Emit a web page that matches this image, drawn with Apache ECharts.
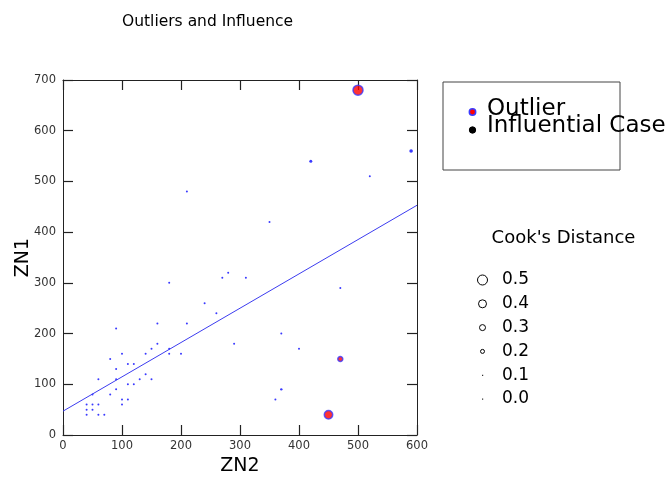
<!DOCTYPE html>
<html><head><meta charset="utf-8">
<script src="https://cdn.jsdelivr.net/npm/echarts@6/dist/echarts.min.js"></script>
<style>html,body{margin:0;padding:0;background:#fff}#c{width:670px;height:481px}</style>
</head><body><div id="c"></div>
<script>
// ---- data ----
const chartTitle = 'Outliers and Influence';
const xName = 'ZN2';
const yName = 'ZN1';
const pointsX = [40,60,70,40,50,40,50,60,100,100,110,50,80,90,110,120,60,90,130,150,140,90,110,120,80,100,140,180,200,150,180,160,290,90,160,210,260,240,180,270,280,310,370,400,470,370,360,350,210,520,420,590];
const pointsY = [40,40,40,50,50,60,60,60,60,70,70,80,80,90,100,100,110,110,110,110,120,130,140,140,150,160,160,160,160,170,170,180,180,210,220,220,240,260,300,310,320,310,200,170,290,90,70,420,480,510,540,560];
const pointsCook = [0.05,0.05,0.05,0.05,0.05,0.05,0.05,0.05,0.05,0.05,0.05,0.05,0.05,0.05,0.05,0.05,0.05,0.05,0.05,0.05,0.05,0.05,0.05,0.05,0.05,0.05,0.05,0.05,0.05,0.05,0.05,0.05,0.05,0.05,0.05,0.05,0.05,0.05,0.05,0.05,0.05,0.05,0.05,0.05,0.05,0.12,0.05,0.05,0.05,0.05,0.15,0.18];
const outlierX = [500, 450, 470];
const outlierY = [680, 40, 150];
const outlierCook = [0.5, 0.42, 0.25];
const fitX = [0, 600];
const fitY = [47, 453];
const legendNames = ['Outlier', 'Influential Case'];
const cookTitle = "Cook's Distance";
const cookLevels = [0.5, 0.4, 0.3, 0.2, 0.1, 0.0];

// ---- build ----
const FONT = 'DejaVu Sans';
const sizeOf = c => Math.max(2, 20 * c);
const normalData = pointsX.map((x, i) => [x, pointsY[i], pointsCook[i]]);
const outlierData = outlierX.map((x, i) => [x, outlierY[i], outlierCook[i]]);
const fitData = fitX.map((x, i) => [x, fitY[i]]);

function makeAxis(extra) {
  const base = {
    type: 'value',
    splitLine: {show: false},
    axisLine: {show: true, onZero: false, lineStyle: {color: '#222', width: 1}},
    axisTick: {show: true, inside: true, length: 10, lineStyle: {color: '#222', width: 1.2}},
    axisLabel: {fontFamily: FONT, fontSize: 11.5, color: '#333'}
  };
  return Object.assign(base, extra);
}

const graphics = [];
graphics.push({type: 'rect', shape: {x: 443, y: 82, width: 177, height: 88},
  style: {fill: 'none', stroke: '#444', lineWidth: 1}});
graphics.push({type: 'circle', shape: {cx: 472.5, cy: 112, r: 3.2},
  style: {fill: '#ff0000', stroke: '#3a3aff', lineWidth: 1.5}});
graphics.push({type: 'circle', shape: {cx: 472.5, cy: 130, r: 3.2},
  style: {fill: '#000', stroke: '#000', lineWidth: 1}});
graphics.push({type: 'text', x: 487, y: 109, style: {text: legendNames[0], font: '23px "DejaVu Sans"', fill: '#000', verticalAlign: 'middle'}});
graphics.push({type: 'text', x: 487, y: 126.5, style: {text: legendNames[1], font: '23px "DejaVu Sans"', fill: '#000', verticalAlign: 'middle'}});
graphics.push({type: 'text', x: 563.5, y: 238.5, style: {text: cookTitle, font: '18px "DejaVu Sans"', fill: '#000', align: 'center', verticalAlign: 'middle'}});
cookLevels.forEach((c, i) => {
  const cy = 280 + i * 23.8;
  const r = 10 * c;
  if (r >= 1.5) {
    graphics.push({type: 'circle', shape: {cx: 482.5, cy: cy, r: r},
      style: {fill: '#fff', stroke: '#000', lineWidth: 1}});
  } else {
    graphics.push({type: 'rect', shape: {x: 482, y: cy - 0.5, width: 1.2, height: 1.2},
      style: {fill: '#333'}});
  }
  graphics.push({type: 'text', x: 502, y: cy, style: {text: c.toFixed(1), font: '17px "DejaVu Sans"', fill: '#000', verticalAlign: 'middle'}});
});

const option = {
  animation: false,
  backgroundColor: '#fff',
  title: {text: chartTitle, left: 117, top: 9,
    textStyle: {fontFamily: FONT, fontSize: 15.5, fontWeight: 'normal', color: '#000'}},
  grid: {left: 63, right: 253, top: 80, bottom: 46, containLabel: false, outerBoundsMode: 'none'},
  xAxis: [
    makeAxis({position: 'bottom', min: 0, max: 600, interval: 100,
      name: xName, nameLocation: 'middle', nameGap: 13,
      nameTextStyle: {fontFamily: FONT, fontSize: 19, color: '#000', verticalAlign: 'top'},
      axisLabel: {fontFamily: FONT, fontSize: 11.5, color: '#333', margin: 5}}),
    makeAxis({position: 'top', min: 0, max: 600, interval: 100, axisLabel: {show: false}})
  ],
  yAxis: [
    makeAxis({position: 'left', min: 0, max: 700, interval: 100,
      name: yName, nameLocation: 'middle', nameGap: 30, nameRotate: 90, nameMoveOverlap: false,
      nameTextStyle: {fontFamily: FONT, fontSize: 19, color: '#000'},
      axisLabel: {fontFamily: FONT, fontSize: 11.5, color: '#333', margin: 7}}),
    makeAxis({position: 'right', min: 0, max: 700, interval: 100, axisLabel: {show: false}})
  ],
  series: [
    {type: 'line', data: fitData, symbol: 'none', silent: true, z: 1,
      lineStyle: {color: '#3c3cf0', width: 1}},
    {type: 'scatter', data: normalData, z: 2,
      symbolSize: d => sizeOf(d[2]),
      itemStyle: {color: '#3a3aff', opacity: 1}},
    {type: 'scatter', data: outlierData, z: 3,
      symbolSize: d => sizeOf(d[2]),
      itemStyle: {color: '#ff0000', borderColor: '#3a3aff', borderWidth: 1.5}}
  ],
  graphic: graphics
};
const chart = echarts.init(document.getElementById('c'), null, {renderer: 'canvas'});
chart.setOption(option);
</script>
</body></html>
